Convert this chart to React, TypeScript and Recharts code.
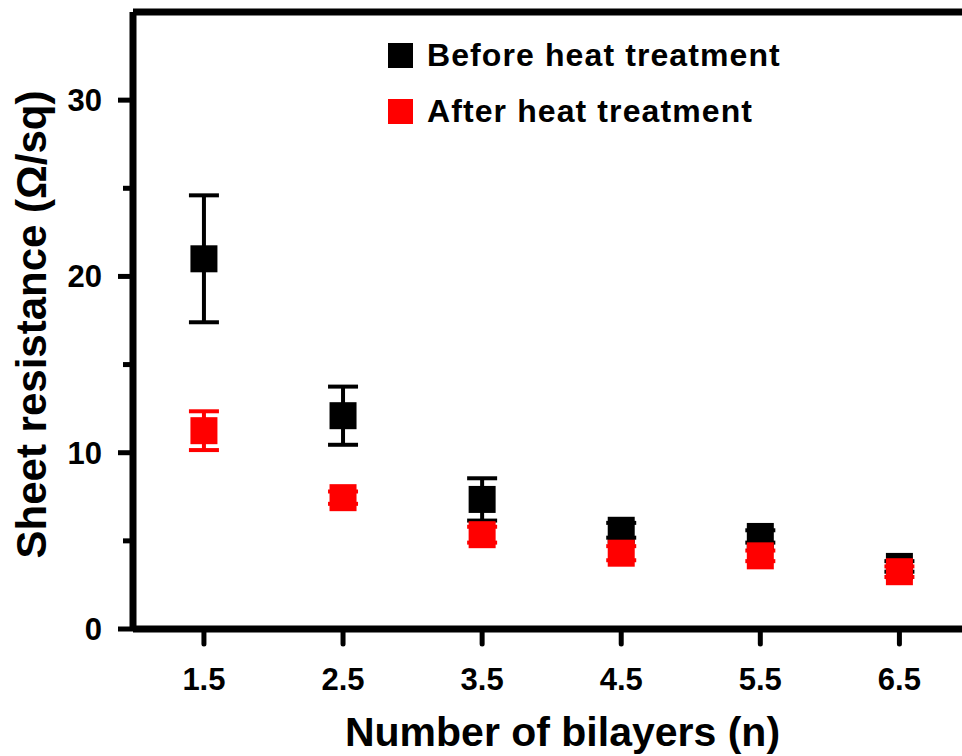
import {
  ErrorBar,
  Legend,
  ReferenceLine,
  Scatter,
  ScatterChart,
  XAxis,
  YAxis,
} from "recharts";

// Sheet resistance vs. number of bilayers, before / after heat treatment.

const bilayers = [1.5, 2.5, 3.5, 4.5, 5.5, 6.5];
const beforeValues = [21.0, 12.1, 7.35, 5.6, 5.25, 3.55];
const beforeErrors = [3.6, 1.65, 1.2, 0.42, 0.35, 0.3];
const afterValues = [11.25, 7.45, 5.35, 4.3, 4.15, 3.25];
const afterErrors = [1.1, 0.35, 0.45, 0.4, 0.3, 0.3];
const seriesNames = ["Before heat treatment", "After heat treatment"];

const xTicks = [1.5, 2.5, 3.5, 4.5, 5.5, 6.5];
const yTicks = [0, 5, 10, 15, 20, 25, 30];
const yLabelled = [0, 10, 20, 30];

const before = bilayers.map((x, i) => ({ x, y: beforeValues[i], err: beforeErrors[i] }));
const after = bilayers.map((x, i) => ({ x, y: afterValues[i], err: afterErrors[i] }));

const FONT = "'Liberation Sans', Arial, sans-serif";
const TICK = 15;
const GAP = 16;
const SQ = 27;

function Square(props: any) {
  const { cx, cy, fill } = props;
  if (cx == null || cy == null) return null;
  return <rect x={cx - SQ / 2} y={cy - SQ / 2} width={SQ} height={SQ} fill={fill} />;
}

function YTick(props: any) {
  const { x, y, payload } = props;
  const major = yLabelled.includes(payload.value);
  const len = major ? TICK : 10;
  const end = x + GAP + TICK;
  return (
    <g>
      <line x1={end - len} x2={end} y1={y} y2={y} stroke="#000" strokeWidth={5} />
      {major && (
        <text x={x} y={y + 11} textAnchor="end" fontSize={31} fontWeight="bold" fill="#000" fontFamily={FONT}>
          {payload.value}
        </text>
      )}
    </g>
  );
}

function XTick(props: any) {
  const { x, y, payload } = props;
  return (
    <text x={x} y={y + 23} textAnchor="middle" fontSize={31} fontWeight="bold" fill="#000" fontFamily={FONT}>
      {payload.value}
    </text>
  );
}

function LegendBox({ payload }: any) {
  const items = [...(payload || [])].sort(
    (a: any, b: any) => seriesNames.indexOf(a.value) - seriesNames.indexOf(b.value)
  );
  return (
    <div style={{ fontFamily: FONT }}>
      {items.map((p: any) => (
        <div key={p.value} style={{ display: "flex", alignItems: "center", height: 56 }}>
          <span style={{ width: 25, height: 25, background: p.color, marginRight: 14 }} />
          <span style={{ fontSize: 32, fontWeight: "bold", color: "#000", lineHeight: 1, letterSpacing: 1.1 }}>
            {p.value}
          </span>
        </div>
      ))}
    </div>
  );
}

export default function App() {
  return (
    <div style={{ position: "absolute", left: 0, top: 0, background: "#fff", fontFamily: FONT }}>
      <ScatterChart width={962} height={756} margin={{ top: 12, right: 0, bottom: 0, left: 0 }}>
        <XAxis
          dataKey="x"
          type="number"
          domain={[0.99, 6.95]}
          allowDataOverflow
          ticks={xTicks}
          height={127}
          axisLine={{ stroke: "#000", strokeWidth: 7 }}
          tickLine={{ stroke: "#000", strokeWidth: 5, strokeLinecap: "round" }}
          tickSize={TICK}
          tickMargin={23}
          tick={<XTick />}
          label={{
            value: "Number of bilayers (n)",
            position: "insideBottom",
            offset: 10,
            fill: "#000",
            fontSize: 41,
            fontWeight: "bold",
            fontFamily: FONT,
            dx: 15,
          }}
        />
        <YAxis
          dataKey="y"
          type="number"
          domain={[0, 35]}
          allowDataOverflow
          ticks={yTicks}
          width={133}
          axisLine={{ stroke: "#000", strokeWidth: 7 }}
          tickLine={false}
          tickSize={TICK}
          tickMargin={GAP}
          tick={<YTick />}
          label={{
            value: "Sheet resistance (Ω/sq)",
            angle: -90,
            position: "insideLeft",
            offset: 0,
            textAnchor: "middle",
            fill: "#000",
            fontSize: 42,
            fontWeight: "bold",
            fontFamily: FONT,
            dx: 31,
            dy: 4,
          }}
        />
        <ReferenceLine y={35} stroke="#000" strokeWidth={7} />
        <Legend
          layout="vertical"
          align="center"
          verticalAlign="middle"
          wrapperStyle={{ left: 388, top: 27, width: "auto" }}
          content={<LegendBox />}
        />
        <Scatter name={seriesNames[0]} data={before} fill="#000000" shape={<Square />} isAnimationActive={false}>
          <ErrorBar dataKey="err" direction="y" width={15} strokeWidth={4} stroke="#000000" isAnimationActive={false} />
        </Scatter>
        <Scatter name={seriesNames[1]} data={after} fill="#ff0000" shape={<Square />} isAnimationActive={false}>
          <ErrorBar dataKey="err" direction="y" width={15} strokeWidth={4} stroke="#ff0000" isAnimationActive={false} />
        </Scatter>
      </ScatterChart>
    </div>
  );
}
